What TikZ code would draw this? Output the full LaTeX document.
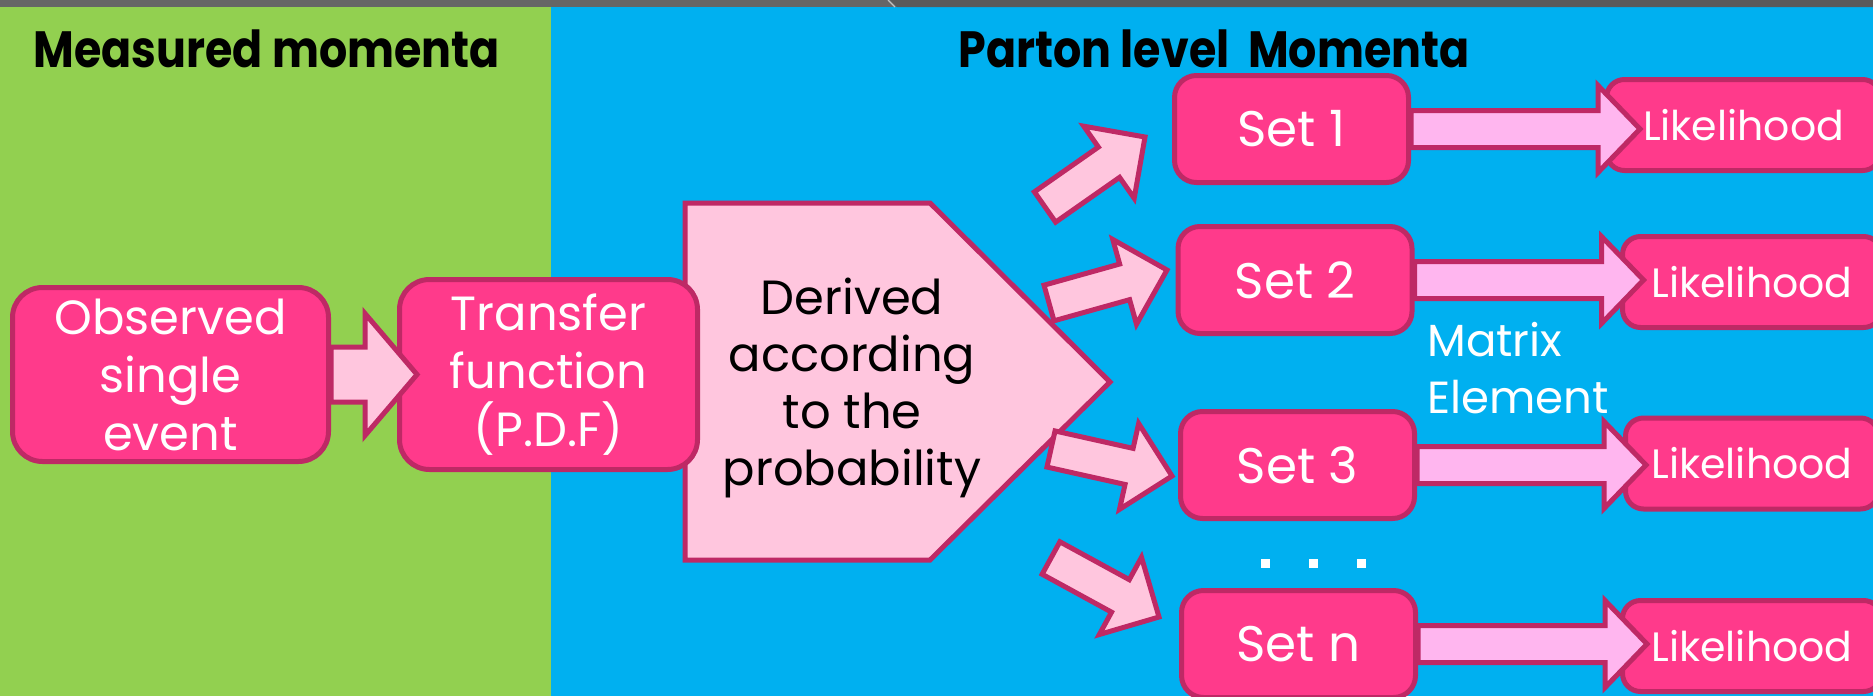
\documentclass[tikz,border=0pt]{standalone}
\usepackage{fontspec}
\setmainfont{Poppins}
\usepackage{xcolor}
\usepackage{graphicx}
\usetikzlibrary{calc}

\definecolor{slidegreen}{HTML}{92D050}
\definecolor{slideblue}{HTML}{00B0F0}
\definecolor{stripgray}{HTML}{666666}
\definecolor{stripdark}{HTML}{5A5A5A}
\definecolor{boxpink}{HTML}{FF3A8B}
\definecolor{edgepink}{HTML}{BE2965}
\definecolor{palepink}{HTML}{FFC6DE}
\definecolor{lilacpink}{HTML}{FFB6EF}

\tikzset{
  pinkbox/.style={draw=edgepink, fill=boxpink, line width=2.5pt, text=white, align=center, inner sep=0pt},
  setbox/.style={pinkbox, rounded corners=11pt, minimum width=117pt, minimum height=53.5pt, font=\fontsize{25}{30}\selectfont},
  likbox/.style={pinkbox, rounded corners=9pt, minimum height=45.5pt, font=\fontsize{20.5}{24}\selectfont},
  fatarrow/.style={draw=edgepink, fill=palepink, line width=2.5pt, line join=miter},
  heading/.style={font=\bfseries\fontsize{25.5}{30}\selectfont, anchor=base west, inner sep=0pt},
}

\newcommand{\headtext}[1]{\scalebox{0.87}[1]{#1}}

% [style]{from}{to}{shaft half width}{head half width}{head length}
\newcommand{\blockarrow}[6][]{
  \coordinate (ba-q) at ($(#3)!#6!(#2)$);
  \draw[fatarrow,#1] ($(#2)!#4!90:(#3)$) -- ($(ba-q)!#4!-90:(#2)$) -- ($(ba-q)!#5!-90:(#2)$) -- (#3)
    -- ($(ba-q)!#5!90:(#2)$) -- ($(ba-q)!#4!90:(#2)$) -- ($(#2)!#4!-90:(#3)$) -- cycle;
}

\begin{document}
\begin{tikzpicture}[x=0.5pt, y=-0.5pt]

\useasboundingbox (0,0) rectangle (1873,696);
\clip (0,0) rectangle (1873,696);

\fill[slidegreen] (0,0) rectangle (551,696);
\fill[slideblue] (551,0) rectangle (1873,696);
\fill[stripgray] (0,0) rectangle (1873,7);
\fill[stripdark] (890,0) -- (1873,0) -- (1873,7) -- (897,7) -- cycle;
\draw[white!60!stripgray, line width=0.6pt] (888,0) -- (895,7);

\node[heading] (meas) at (33,67) {\headtext{Measured momenta}};
\node[heading] (parton) at (958,67) {\headtext{Parton level\ \ Momenta}};


% left part
\draw[fatarrow] (685,203) -- (930,203) -- (1110,382) -- (930,560) -- (685,560) -- cycle;
\node[align=center, inner sep=0pt, font=\fontsize{24}{28.5}\selectfont] (deriv) at (852,388) {Derived\\according\\to the\\probability};

\node[pinkbox, rounded corners=15pt, minimum width=158pt, minimum height=87pt, font=\fontsize{24}{29}\selectfont] (obs) at (170.5,374.5) {Observed\\single\\event};
\node[pinkbox, rounded corners=15pt, minimum width=149pt, minimum height=95pt, font=\fontsize{24}{29}\selectfont] (tf) at (548.5,374.5) {Transfer\\function\\(P.D.F)};

\coordinate (tftip) at ($(obs.east)+(86,0)$);
\blockarrow{obs.east}{tftip}{13.75pt}{30.5pt}{26pt}


% sets and likelihoods
\node[likbox, minimum width=137pt] (lik1) at (1743.5,125) {Likelihood};
\node[likbox, minimum width=129.5pt] (lik2) at (1752,282) {Likelihood};
\node[likbox, minimum width=126.5pt] (lik3) at (1752,463.5) {Likelihood};
\node[likbox, minimum width=129.5pt] (likn) at (1752,646) {Likelihood};

\node[setbox] (set1) at (1291.5,129) {Set 1};
\node[setbox] (set2) at (1295,280) {Set 2};
\node[setbox] (set3) at (1297.5,465) {Set 3};
\node[setbox] (setn) at (1298.5,644) {Set n};

\foreach \s in {1,2,3,n} {
  \coordinate (tip\s) at ($(set\s.east)+(229,0)$);
  \blockarrow[fill=lilacpink]{set\s.east}{tip\s}{9.25pt}{21.75pt}{21pt}
}

\coordinate (tail1) at (1045,207);
\coordinate (head1) at (1145,137);
\coordinate (tail2) at (1049,303);
\coordinate (head2) at (1167,270);
\coordinate (tail3) at (1051,449);
\coordinate (head3) at (1172,476);
\coordinate (tail4) at (1051,558);
\coordinate (head4) at (1159,617);
\foreach \k in {1,...,4} {
  \blockarrow{tail\k}{head\k}{9.25pt}{22pt}{22pt}
}

\foreach \x in {1265,1313,1361}
  \fill[white] (\x-4.5,558.5) rectangle (\x+4.5,567.5);

\node[anchor=north west, align=left, inner sep=0pt, text=white, font=\fontsize{22.5}{28.5}\selectfont] (matel) at (1427,322) {Matrix\\Element};

\end{tikzpicture}
\end{document}
